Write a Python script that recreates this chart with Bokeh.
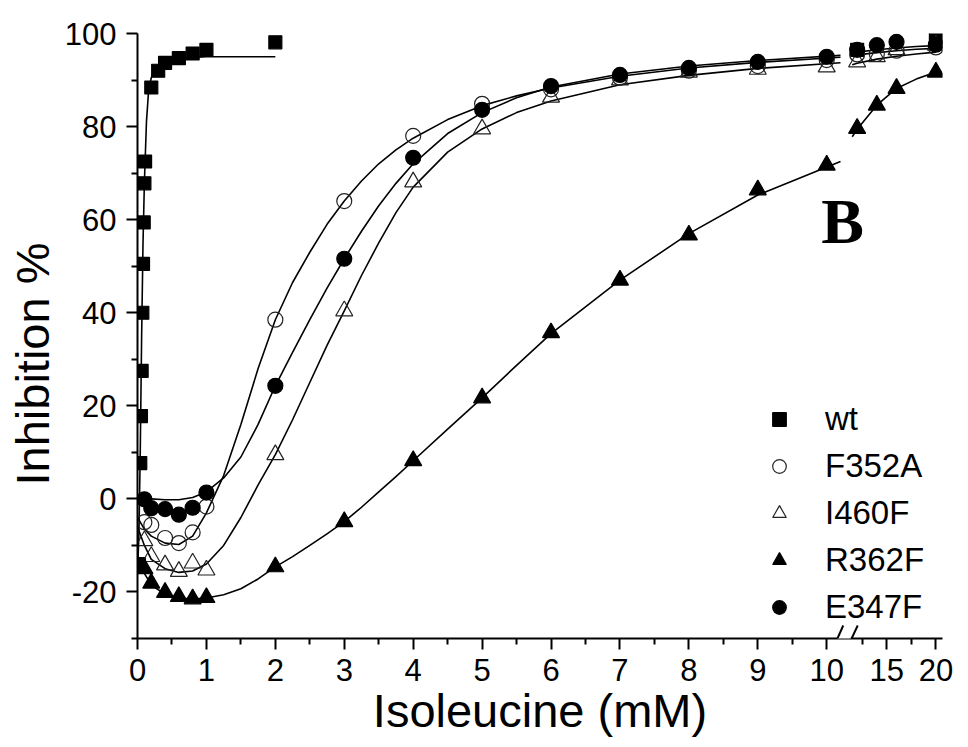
from bokeh.plotting import figure
from bokeh.models import (Range1d, FixedTicker, CustomJSTickFormatter, Legend,
                          LegendItem, Label, Arrow, Title)
from bokeh.embed import file_html
from bokeh.resources import INLINE

# ---------------- data ----------------
# wild type, first axis segment
wt_x = [0.02, 0.04, 0.05, 0.06, 0.07, 0.08, 0.09, 0.1, 0.11, 0.2, 0.3, 0.4, 0.6, 0.8, 1.0, 2.0]
wt_y = [-14, 7.7, 17.8, 27.5, 40, 50.5, 59.4, 67.8, 72.5, 88.4, 92.0, 93.7, 94.7, 95.7, 96.5, 98.1]
# wild type, after the axis break
wt_x_hi = [12, 20]
wt_y_hi = [96.5, 99.2]

# mutants: concentrations (mM)
mut_x = [0.1, 0.2, 0.4, 0.6, 0.8, 1, 2, 3, 4, 5, 6, 7, 8, 9, 10]
mut_x_hi = [12, 14, 16, 20]

f352a_y = [-5, -5.6, -8.4, -9.5, -7.2, -1.65, 38.5, 64, 78, 84.9, 88, 90.5, 92, 93, 94.3]
f352a_y_hi = [95.5, 95.6, 96.3, 97.0]
i460f_y = [-9, -12.4, -14.2, -15.6, -13.8, -15.3, 9.5, 40.4, 68.1, 79.5, 86.3, 90, 91.7, 92.3, 92.8]
i460f_y_hi = [93.9, 95.0, 96.5, 97.5]
r362f_y = [-15, -18.1, -20.1, -21, -21.5, -21.2, -14.6, -4.9, 8.2, 21.7, 35.7, 47, 56.7, 66.4, 71.7]
r362f_y_hi = [79.6, 84.6, 88.2, 91.7]
e347f_y = [-0.1, -2.0, -2.2, -3.4, -1.9, 1.35, 24.3, 51.6, 73.3, 83.6, 88.7, 91.1, 92.6, 93.9, 95.0]
e347f_y_hi = [96.5, 97.5, 98.2, 97.6]

# fitted curves
wt_fit_x = [0, 0.02, 0.04, 0.06, 0.08, 0.1, 0.13, 0.16, 0.2, 0.3, 0.5, 1, 2]
wt_fit_y = [-16, -8, 10, 35, 55, 68, 81, 87.5, 90.5, 93.3, 94.6, 95, 95]

fit_x = [0, 0.1, 0.2, 0.4, 0.6, 0.8, 1.0, 1.25, 1.5, 1.75, 2, 2.25, 2.5, 2.75, 3,
         3.25, 3.5, 3.75, 4, 4.5, 5, 5.5, 6, 7, 8, 9, 10.2]
f352a_fit = [-4, -6.5, -8, -9.5, -9.8, -8, -3, 5, 16, 28, 38.5, 46.5, 53, 59, 64,
             68.3, 72, 75, 77.5, 81.5, 84.5, 86.6, 88.3, 90.8, 92.6, 93.8, 94.9]
e347f_fit = [0, 0, 0, -0.2, -0.2, 0.3, 1.5, 4.5, 9, 16, 24.3, 31.5, 38.5, 45.3, 51.6,
             57.5, 63, 67.8, 72, 78.5, 83, 86.2, 88.5, 91.3, 93, 94.2, 95.3]
i460f_fit = [-6, -10, -13, -15, -15.8, -15.5, -14, -10, -4, 3, 9.5, 17, 25, 33, 40.4,
             48, 55, 61.5, 67, 74.5, 79.5, 83, 85.5, 89, 91, 92.5, 93.7]
r362f_fit = [-12, -16, -18.5, -20.5, -21.3, -21.5, -21.3, -20.6, -19.3, -17.2, -14.6, -12.4, -10, -7.5, -4.9,
             -1.8, 1.5, 4.8, 8.2, 15, 21.7, 28.7, 35.5, 47, 57, 65.3, 72.5]

fit_x_hi = [11.5, 12, 14, 16, 18, 20]
f352a_fit_hi = [95.2, 95.4, 95.9, 96.3, 96.6, 96.8]
e347f_fit_hi = [95.8, 96.0, 96.5, 96.9, 97.2, 97.4]
i460f_fit_hi = [93.3, 93.6, 94.5, 95.1, 95.6, 96.0]
r362f_fit_hi = [77.8, 79.4, 84.6, 88.2, 90.2, 91.7]

x_ticks_lo = [0, 1, 2, 3, 4, 5, 6, 7, 8, 9, 10]
x_ticks_hi = [15, 20]
y_ticks = [-20, 0, 20, 40, 60, 80, 100]

# ---------------- layout of the broken axis ----------------
U_END = 11.68      # main range end (first segment units)
U0 = 10.87         # position of 15 mM on the main range
K = 7.0            # mM of second segment per unit of main range
hi_start = 15 - U0 * K
hi_end = 15 + (U_END - U0) * K

def hi_pos(v):
    return U0 + (v - 15) / K

FONT = "Liberation Sans"

p = figure(width=968, height=747, output_backend="svg", toolbar_location=None,
           x_range=Range1d(0, U_END), y_range=Range1d(-30, 100),
           min_border_left=134, min_border_right=26, min_border_top=33,
           min_border_bottom=109)
p.extra_x_ranges = {"hi": Range1d(hi_start, hi_end)}
p.outline_line_color = None
p.xgrid.visible = False
p.ygrid.visible = False
p.background_fill_color = "white"
p.border_fill_color = "white"

# axes
xa = p.xaxis[0]
xa.ticker = FixedTicker(ticks=x_ticks_lo + [hi_pos(v) for v in x_ticks_hi],
                        minor_ticks=[v + 0.5 for v in x_ticks_lo[:-1]] + [hi_pos(12.5), hi_pos(17.5)])
xa.formatter = CustomJSTickFormatter(args=dict(u0=U0, k=K), code="""
    if (tick <= 10.5) { return tick.toFixed(0); }
    return (15 + (tick - u0) * k).toFixed(0);
""")
xa.axis_label = "Isoleucine (mM)"
ya = p.yaxis[0]
ya.ticker = FixedTicker(ticks=y_ticks, minor_ticks=[-30, -10, 10, 30, 50, 70, 90])
ya.formatter = CustomJSTickFormatter(code="return tick.toFixed(0);")

for ax in (xa, ya):
    ax.axis_line_width = 2
    ax.major_tick_line_width = 2
    ax.minor_tick_line_width = 2
    ax.major_tick_in = 0
    ax.major_tick_out = 11
    ax.minor_tick_in = 0
    ax.minor_tick_out = 6
    ax.major_label_text_font = FONT
    ax.major_label_text_font_size = "31px"
    ax.major_label_text_color = "black"
    ax.axis_label_text_font = FONT
    ax.axis_label_text_font_size = "47px"
    ax.axis_label_text_font_style = "normal"
    ax.axis_label_text_color = "black"
xa.major_label_standoff = 9
xa.axis_label_standoff = 0
ya.major_label_standoff = 10

# y axis title, sitting a little below the middle as in the original
p.add_layout(Title(text="Inhibition %", align="left", offset=153, standoff=6,
                   text_font=FONT, text_font_size="47px", text_font_style="normal",
                   text_color="black"), "left")

LW = 1.6
# fitted curves
p.line(wt_fit_x, wt_fit_y, line_color="black", line_width=LW)
for yy in (f352a_fit, e347f_fit, i460f_fit, r362f_fit):
    p.line(fit_x, yy, line_color="black", line_width=LW, line_join="round")
for yy in (f352a_fit_hi, e347f_fit_hi, i460f_fit_hi, r362f_fit_hi):
    p.line(fit_x_hi, yy, line_color="black", line_width=LW, x_range_name="hi")

# markers
def pts(x, y, marker, size, filled, hi=False):
    kw = dict(marker=marker, size=size, line_color="black", line_width=1.2)
    if filled:
        kw.update(fill_color="black")
    else:
        kw.update(fill_alpha=0, line_color="#222222")
    if hi:
        kw["x_range_name"] = "hi"
    return p.scatter(x, y, **kw)

r_wt = pts(wt_x, wt_y, "square", 13, True)
pts(wt_x_hi, wt_y_hi, "square", 13, True, hi=True)
r_f = pts(mut_x, f352a_y, "circle", 15, False)
pts(mut_x_hi, f352a_y_hi, "circle", 15, False, hi=True)
r_i = pts(mut_x, i460f_y, "triangle", 17, False)
pts(mut_x_hi, i460f_y_hi, "triangle", 17, False, hi=True)
r_r = pts(mut_x, r362f_y, "triangle", 17, True)
pts(mut_x_hi, r362f_y_hi, "triangle", 17, True, hi=True)
r_e = pts(mut_x, e347f_y, "circle", 15, True)
pts(mut_x_hi, e347f_y_hi, "circle", 15, True, hi=True)

legend = Legend(items=[LegendItem(label="wt", renderers=[r_wt]),
                       LegendItem(label="F352A", renderers=[r_f]),
                       LegendItem(label="I460F", renderers=[r_i]),
                       LegendItem(label="R362F", renderers=[r_r]),
                       LegendItem(label="E347F", renderers=[r_e])],
                location=(625, 11), orientation="vertical",
                glyph_width=34, glyph_height=34, label_height=40,
                label_standoff=29, spacing=7, padding=0, margin=0,
                border_line_color=None, background_fill_alpha=0,
                label_text_font=FONT, label_text_font_size="33px",
                label_text_color="black")
p.add_layout(legend)

# panel letter
p.add_layout(Label(x=9.92, y=52, text="B", text_font="Liberation Serif",
                   text_font_style="bold", text_font_size="64px", text_color="black"))

# axis break marks
b0 = 10.05
p.add_layout(Arrow(end=None, x_start=b0 + 0.1, y_start=-30, x_end=b0 + 0.3, y_end=-30,
                   line_color="white", line_width=5))
p.add_layout(Arrow(end=None, x_start=b0, y_start=-33.5, x_end=b0 + 0.19, y_end=-27.2,
                   line_color="black", line_width=2))
p.add_layout(Arrow(end=None, x_start=b0 + 0.2, y_start=-33.5, x_end=b0 + 0.4, y_end=-27.2,
                   line_color="black", line_width=2))

open("out.html", "w").write(file_html(p, INLINE))
